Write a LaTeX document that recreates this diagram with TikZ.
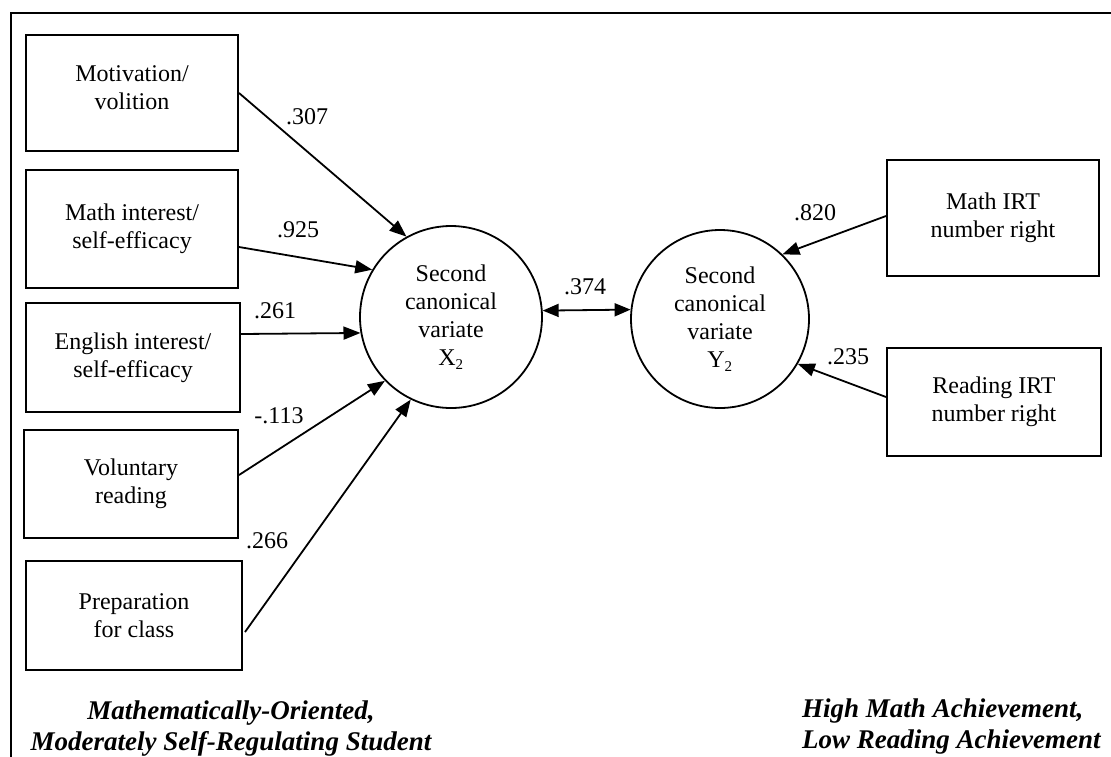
\documentclass[tikz,border=0pt]{standalone}
\usepackage{fontspec}
\setmainfont{Liberation Serif}
\usetikzlibrary{arrows.meta}
\begin{document}
\begin{tikzpicture}[x=1pt,y=-1pt,
  box/.style={draw,line width=2pt,align=center,inner sep=0pt,font=\fontsize{24}{28}\selectfont},
  var/.style={draw,circle,line width=1.8pt,align=center,inner sep=0pt,minimum size=182pt,font=\fontsize{24}{28}\selectfont},
  arr/.style={line width=1.8pt,-{Triangle[length=17pt,width=13pt]}},
  darr/.style={line width=1.8pt,{Triangle[length=16pt,width=13pt]}-{Triangle[length=16pt,width=13pt]}},
  lab/.style={font=\fontsize{24}{28}\selectfont,inner sep=0pt},
  captxt/.style={font=\fontsize{27}{31}\selectfont\bfseries\itshape,inner sep=0pt}]
\useasboundingbox (0,0) rectangle (1111,756);
\draw[line width=2.5pt] (11,800) -- (11,13) -- (1130,13);
% left boxes
\node[box,minimum width=212pt,minimum height=116pt] (mot) at (132,93) {};
\node[font=\fontsize{24}{28}\selectfont,align=center,inner sep=0pt] (mott) at (132,88) {Motivation/\\volition};
\node[box,minimum width=212pt,minimum height=118pt] (mi) at (132,229) {Math interest/\\self-efficacy};
\node[box,minimum width=214pt,minimum height=109pt] (en) at (133,357.5) {English interest/\\self-efficacy};
\node[box,minimum width=214pt,minimum height=108pt] (vr) at (131,484) {Voluntary\\reading};
\node[box,minimum width=216pt,minimum height=109pt] (pc) at (134,615.5) {Preparation\\for class};
% right boxes
\node[box,minimum width=212pt,minimum height=116pt] (mirt) at (993,218) {Math IRT\\number right};
\node[box,minimum width=214pt,minimum height=108pt] (rirt) at (994,402) {Reading IRT\\number right};
% circles
\node[var] (X) at (451,317) {Second\\canonical\\variate\\X\textsubscript{\fontsize{15}{15}\selectfont 2}};
\node[var,minimum size=178pt] (Y) at (720,319) {Second\\canonical\\variate\\Y\textsubscript{\fontsize{15}{15}\selectfont 2}};
% arrows
\draw[arr] (mot.east) -- (X.119);
\draw[arr] ([yshift=-18pt]mi.east) -- (X.149);
\draw[arr] ([yshift=23.5pt]en.east) -- (X.190.7);
\draw[arr] ([yshift=9pt]vr.east) -- (X.224);
\draw[arr] ([yshift=-16.5pt,xshift=2pt]pc.east) -- (X.244.6);
\draw[arr] ([yshift=2pt]mirt.west) -- (Y.46);
\draw[arr] ([yshift=5pt]rirt.west) -- (Y.-30.3);
\draw[darr] (X.4.4) -- (Y.174.2);
% labels
\node[lab] (l1) at (307,117) {.307};
\node[lab] (l2) at (298,230) {.925};
\node[lab] (l3) at (275,311) {.261};
\node[lab] (l4) at (279,416) {-.113};
\node[lab] (l5) at (267,541) {.266};
\node[lab] (l6) at (585,287) {.374};
\node[lab] (l7) at (815,213) {.820};
\node[lab] (l8) at (848,357) {.235};
% captions
\node[captxt,align=center,anchor=north] (c1) at (231,701) {Mathematically-Oriented,\\Moderately Self-Regulating Student};
\node[captxt,align=left,anchor=north west] (c2) at (802,699) {High Math Achievement,\\Low Reading Achievement};
\end{tikzpicture}
\end{document}
